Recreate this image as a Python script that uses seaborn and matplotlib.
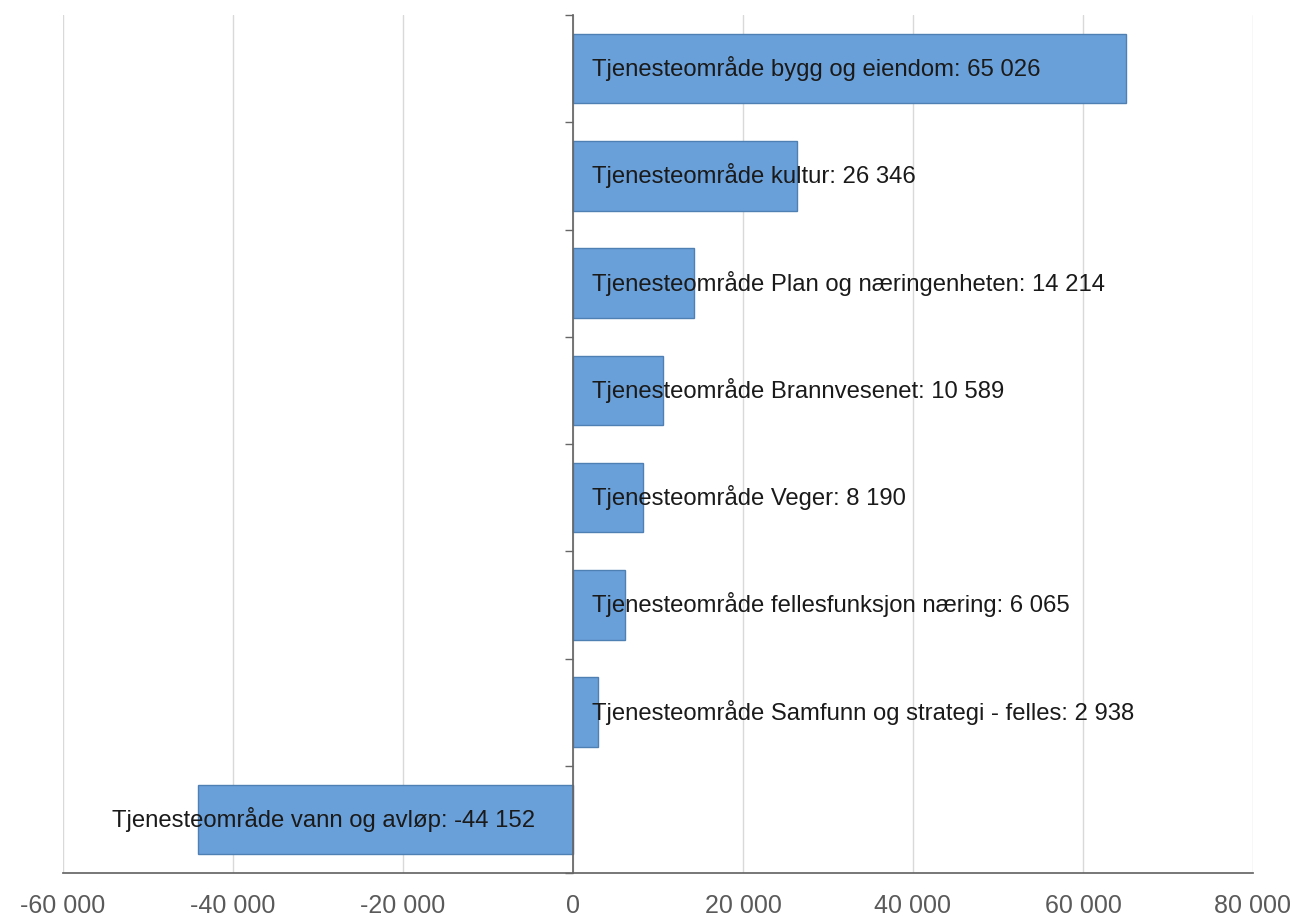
import matplotlib
matplotlib.use("Agg")
import matplotlib.pyplot as plt
import seaborn as sns
import pandas as pd
from matplotlib.ticker import FuncFormatter, FixedLocator

categories = [
    "Tjenesteområde bygg og eiendom",
    "Tjenesteområde kultur",
    "Tjenesteområde Plan og næringenheten",
    "Tjenesteområde Brannvesenet",
    "Tjenesteområde Veger",
    "Tjenesteområde fellesfunksjon næring",
    "Tjenesteområde Samfunn og strategi - felles",
    "Tjenesteområde vann og avløp",
]
values = [65026, 26346, 14214, 10589, 8190, 6065, 2938, -44152]
xticks = [-60000, -40000, -20000, 0, 20000, 40000, 60000, 80000]

sns.set_theme(style="white")
plt.rcParams["font.family"] = ["Liberation Sans", "DejaVu Sans"]

df = pd.DataFrame({"cat": categories, "val": values})

fig = plt.figure(figsize=(12.96, 9.18), dpi=100)
ax = fig.add_axes([63 / 1296, 45 / 918, (1253 - 63) / 1296, (873 - 15) / 918])

sns.barplot(data=df, x="val", y="cat", orient="h", ax=ax, color="#6aa0d9",
            saturation=1, width=0.65, edgecolor="#4f80b3", linewidth=1.0, zorder=3)

ax.set_xlim(-60000, 80000)
ax.set_ylim(len(categories) - 0.5, -0.5)
ax.set_xlabel("")
ax.set_ylabel("")

ax.xaxis.set_major_locator(FixedLocator(xticks))
ax.xaxis.set_major_formatter(FuncFormatter(lambda v, p: f"{int(v):,}".replace(",", " ")))
ax.tick_params(axis="x", colors="#666666", labelsize=18, length=6, width=1, direction="out",
               labelcolor="#5a5a5a", pad=9)
ax.grid(axis="x", color="#d9d9d9", linewidth=1, zorder=0)
ax.grid(axis="y", visible=False)

for s in ["top", "right"]:
    ax.spines[s].set_visible(False)
ax.spines["bottom"].set_color("#666666")
ax.spines["left"].set_position(("data", 0))
ax.spines["left"].set_color("#666666")
ax.spines["left"].set_zorder(4)

bounds = [i - 0.5 for i in range(len(categories) + 1)]
ax.set_yticks(bounds)
ax.set_yticklabels([])
ax.tick_params(axis="y", length=6, width=1, colors="#666666", direction="out", left=True)

for i, (c, v) in enumerate(zip(categories, values)):
    label = f"{c}: {v:,}".replace(",", " ")
    if v >= 0:
        ax.annotate(label, xy=(0, i), xytext=(19, 0), textcoords="offset pixels",
                    ha="left", va="center", fontsize=17.2, color="#1a1a1a", zorder=5)
    else:
        ax.annotate(label, xy=(0, i), xytext=(-38, 0), textcoords="offset pixels",
                    ha="right", va="center", fontsize=17.2, color="#1a1a1a", zorder=5)

fig.savefig("out.png", dpi=100)
